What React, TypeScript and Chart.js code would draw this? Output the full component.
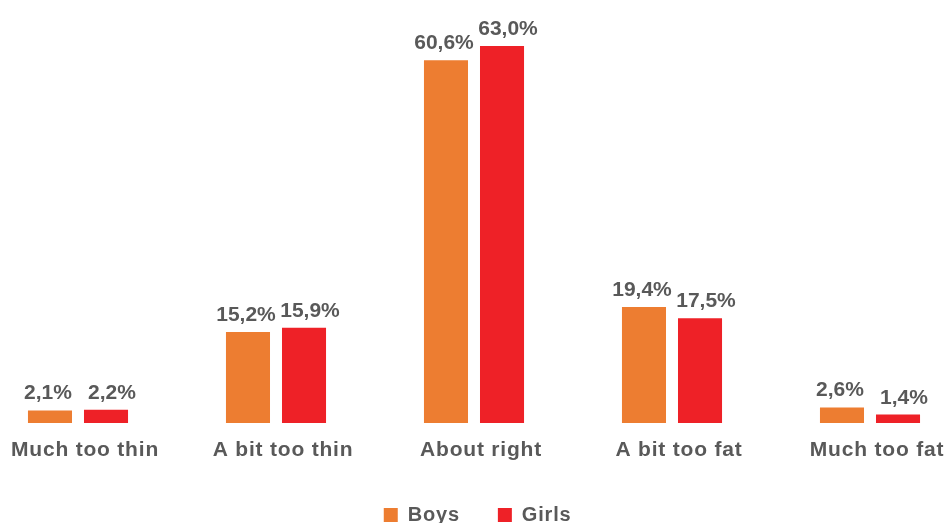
import React, { useEffect, useRef } from "react";
import { Chart, registerables } from "chart.js";

Chart.register(...registerables);

const categories = ["Much too thin", "A bit too thin", "About right", "A bit too fat", "Much too fat"];
const boys = [2.1, 15.2, 60.6, 19.4, 2.6];
const girls = [2.2, 15.9, 63.0, 17.5, 1.4];
const seriesNames = ["Boys", "Girls"];
const seriesColors = ["#ED7D31", "#EE2127"];

const FONT = "'Liberation Sans', Arial, Helvetica, sans-serif";
const TEXT = "#595959";

const fmt = (v: number) => v.toFixed(1).replace(".", ",") + "%";

const spacing = {
  id: "spacing",
  beforeDraw(chart: any) {
    chart.ctx.letterSpacing = "0.8px";
  },
};

const valueLabels = {
  id: "valueLabels",
  afterDatasetsDraw(chart: any) {
    const ctx = chart.ctx;
    ctx.save();
    ctx.letterSpacing = "0px";
    ctx.font = `bold 21px ${FONT}`;
    ctx.fillStyle = TEXT;
    ctx.textAlign = "center";
    ctx.textBaseline = "alphabetic";
    const shift = [-2, 6];
    chart.data.datasets.forEach((ds: any, i: number) => {
      const meta = chart.getDatasetMeta(i);
      meta.data.forEach((bar: any, j: number) => {
        ctx.fillText(fmt(ds.data[j]), bar.x + shift[i], bar.y - 11);
      });
    });
    ctx.restore();
  },
};

export default function App() {
  const ref = useRef<HTMLCanvasElement>(null);
  useEffect(() => {
    if (!ref.current) return;
    const chart = new Chart(ref.current, {
      type: "bar",
      data: {
        labels: categories,
        datasets: [
          { label: seriesNames[0], data: boys, backgroundColor: seriesColors[0] },
          { label: seriesNames[1], data: girls, backgroundColor: seriesColors[1] },
        ],
      },
      options: {
        animation: false,
        responsive: false,
        maintainAspectRatio: false,
        layout: { padding: { top: 46, left: 0, right: 0, bottom: 0 } },
        datasets: { bar: { categoryPercentage: 0.566, barPercentage: 0.786 } },
        scales: {
          x: {
            grid: { display: false },
            border: { display: false },
            ticks: { color: TEXT, font: { family: FONT, size: 21, weight: "bold" }, padding: 7, labelOffset: 7 },
            afterFit: (s: any) => { s.height = 44; },
          },
          y: { display: false, min: 0, max: 63 },
        },
        plugins: {
          legend: {
            position: "bottom",
            labels: {
              color: TEXT,
              font: { family: FONT, size: 20, weight: "bold" },
              boxWidth: 14,
              boxHeight: 14,
              padding: 38,
            },
          },
          tooltip: { enabled: false },
        },
      },
      plugins: [spacing, valueLabels],
    });
    return () => chart.destroy();
  }, []);
  return (
    <div style={{ position: "fixed", left: 0, top: 0, width: 946, height: 523, overflow: "hidden", background: "#fff" }}>
      <canvas ref={ref} width={990} height={535} style={{ position: "absolute", left: -21, top: 0, width: 990, height: 535 }} />
    </div>
  );
}
